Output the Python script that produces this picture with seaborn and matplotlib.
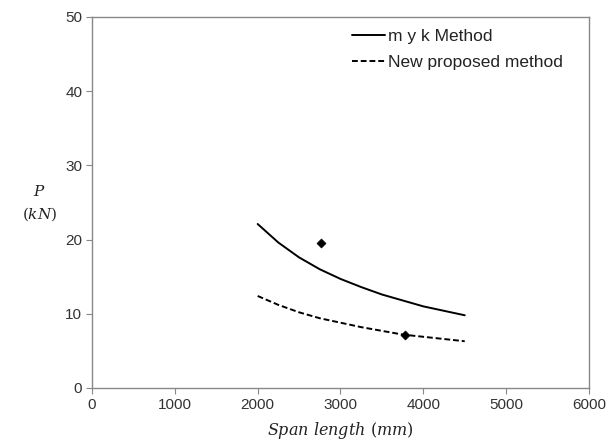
import matplotlib
matplotlib.use("Agg")
import matplotlib.pyplot as plt
import seaborn as sns
import pandas as pd

span = [2000, 2250, 2500, 2750, 3000, 3250, 3500, 3750, 4000, 4250, 4500]
myk = [22.1, 19.6, 17.6, 16.0, 14.7, 13.6, 12.6, 11.8, 11.0, 10.4, 9.8]
proposed = [12.4, 11.2, 10.2, 9.4, 8.8, 8.2, 7.7, 7.2, 6.9, 6.6, 6.3]
test_span = [2760, 3780]
test_p = [19.6, 7.1]

sns.set_style("white")
plt.rcParams['font.family'] = ['Liberation Sans', 'DejaVu Sans']
plt.rcParams['mathtext.fontset'] = 'dejavuserif'

fig = plt.figure(figsize=(6.14, 4.41), dpi=100)
ax = fig.add_axes([0.1498, 0.1202, 0.8095, 0.8413])

df = pd.DataFrame({"span": span, "myk": myk, "new": proposed})
sns.lineplot(data=df, x="span", y="myk", ax=ax, color="black", lw=1.4,
             label="m y k Method")
sns.lineplot(data=df, x="span", y="new", ax=ax, color="black", lw=1.4,
             linestyle=(0, (3, 1.5)), label="New proposed method")
pts = pd.DataFrame({"span": test_span, "p": test_p})
sns.scatterplot(data=pts, x="span", y="p", ax=ax, marker="D", s=22,
                color="black", edgecolor="black", legend=False, zorder=5)

ax.set_xlim(0, 6000)
ax.set_ylim(0, 50)
ax.set_xticks(range(0, 6001, 1000))
ax.set_yticks(range(0, 51, 10))
for s in ax.spines.values():
    s.set_color("#888888")
    s.set_linewidth(1.0)
ax.tick_params(axis="both", which="both", direction="out", length=4,
               color="#888888", labelsize=11, labelcolor="#333333",
               bottom=True, left=True, top=False, right=False, pad=3)

ax.set_xlabel(r"$Span\ length\ (mm)$", fontsize=11.5, labelpad=6, color="#222222")
ax.set_ylabel("$P$\n$(kN)$", fontsize=11, rotation=0, color="#222222",
              labelpad=0, linespacing=1.45, va="center", ha="center")
ax.yaxis.set_label_coords(-0.105, 0.497)

leg = ax.legend(loc="upper left", bbox_to_anchor=(0.523, 0.9668), frameon=False,
                fontsize=12.5, handlelength=1.9, handletextpad=0.17,
                labelspacing=0.6, borderaxespad=0, borderpad=0)
for t in leg.get_texts():
    t.set_color("#222222")

fig.savefig("out.png", dpi=100)
